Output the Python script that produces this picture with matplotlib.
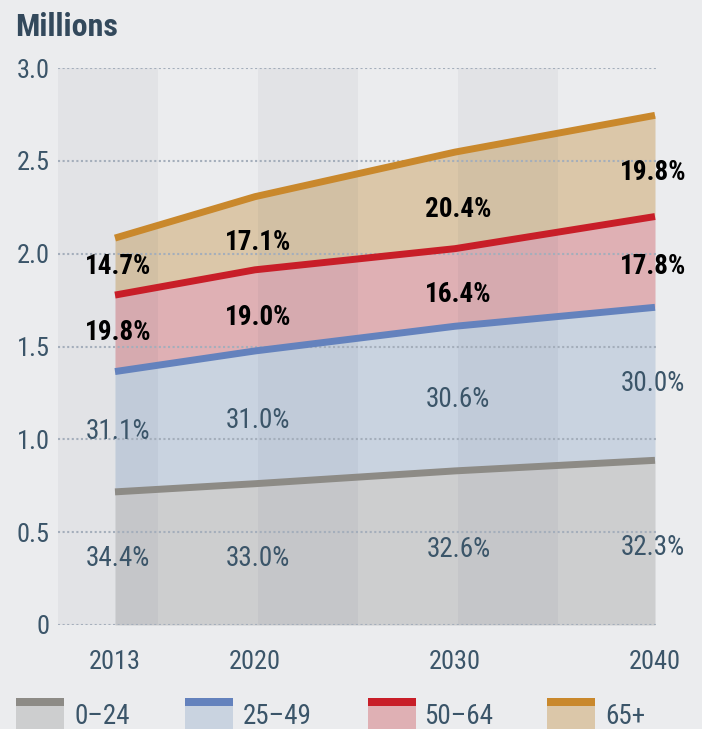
import matplotlib
matplotlib.use("Agg")
import matplotlib.pyplot as plt
from matplotlib import font_manager as fm
from matplotlib.patches import Rectangle
from matplotlib.transforms import offset_copy
import numpy as np

# ---- data ----
years = [2013, 2020, 2030, 2040]
series_names = ["0\u201324", "25\u201349", "50\u201364", "65+"]
# segment sizes (millions) for each age group per year
seg_0_24 = [0.717, 0.761, 0.830, 0.887]
seg_25_49 = [0.648, 0.715, 0.779, 0.824]
seg_50_64 = [0.412, 0.437, 0.418, 0.489]
seg_65p = [0.307, 0.394, 0.520, 0.545]
pct_0_24 = ["34.4%", "33.0%", "32.6%", "32.3%"]
pct_25_49 = ["31.1%", "31.0%", "30.6%", "30.0%"]
pct_50_64 = ["19.8%", "19.0%", "16.4%", "17.8%"]
pct_65p = ["14.7%", "17.1%", "20.4%", "19.8%"]
yticks = [0, 0.5, 1.0, 1.5, 2.0, 2.5, 3.0]
yticklabels = ["0", "0.5", "1.0", "1.5", "2.0", "2.5", "3.0"]
xticklabels = ["2013", "2020", "2030", "2040"]

# ---- font selection (prefer a condensed face) ----
entries = fm.fontManager.ttflist
names = {f.name for f in entries}
narrow = [n for n in ["Roboto Condensed", "Liberation Sans Narrow", "Arial Narrow",
                      "Open Sans Condensed", "Noto Sans Condensed", "DejaVu Sans Condensed"]
          if n in names]
narrow += sorted(n for n in names if ("Condensed" in n or "Narrow" in n) and n not in narrow
                 and "Mono" not in n and "Serif" not in n)
stretch = "normal"
if narrow:
    FONT = narrow[0]
    scale = 1.0
else:
    cond = [f.name for f in entries
            if f.name in ("Roboto", "Noto Sans", "Open Sans")
            and str(f.stretch) in ("condensed", "semi-condensed")]
    if cond:
        FONT = cond[0]
        stretch = "condensed"
        scale = 1.0
    else:
        FONT = "Liberation Sans"
        scale = 0.88
plt.rcParams["font.family"] = [FONT, "DejaVu Sans"]
plt.rcParams["font.stretch"] = stretch

BG = "#ebecee"
TXT = "#3b5569"
line_colors = ["#8d8b86", "#6482bd", "#c81e28", "#c9882c"]
fill_colors = ["#cdcecf", "#c9d3e0", "#dfb0b4", "#dbc7a9"]
# fine label nudges in pixels (down positive), per series and year
label_dy = [[0, 4, 2, 5],
            [0, 3, 1, 0],
            [-1, 7, 7, 5],
            [0, 9, 9, 7]]

fig = plt.figure(figsize=(7.02, 7.29), dpi=100, facecolor=BG)
ax = fig.add_axes([58 / 702, 1 - 625 / 729, 600 / 702, 557 / 729])
ax.set_facecolor(BG)

x0 = 2010.15
ax.set_xlim(x0, x0 + 30)
ax.set_ylim(0, 3.0)

segs = [seg_0_24, seg_25_49, seg_50_64, seg_65p]
pcts = [pct_0_24, pct_25_49, pct_50_64, pct_65p]
cum = np.cumsum(np.array(segs), axis=0)
bottoms = np.vstack([np.zeros(len(years)), cum[:-1]])

for i in range(4):
    ax.fill_between(years, bottoms[i], cum[i], color=fill_colors[i], lw=0, zorder=1)

# alternating vertical bands
for k in range(3):
    ax.axvspan(x0 + 10 * k, x0 + 10 * k + 5, color="#1c2a4a", alpha=0.045, lw=0, zorder=2)

# dotted grid
for yv in yticks:
    ax.axhline(yv, color="#a4aebb", lw=1.5, ls=(0, (1, 1.2)), zorder=3)

for i in range(4):
    ax.plot(years, cum[i], color=line_colors[i], lw=5, solid_capstyle="butt", zorder=4)

# percent labels
for i in range(4):
    mids = (bottoms[i] + cum[i]) / 2
    for j, yr in enumerate(years):
        bold = i >= 2
        tr = offset_copy(ax.transData, fig=fig, x=0, y=-label_dy[i][j], units="dots")
        ax.text(yr + (0.17 if j < 3 else -0.1), mids[j], pcts[i][j], transform=tr,
                ha="center", va="center", fontsize=19.5 * scale,
                fontweight="bold" if bold else "normal",
                color="black" if bold else TXT, zorder=5)

ax.set_yticks(yticks)
ax.set_yticklabels(yticklabels)
ax.set_xticks(years)
ax.set_xticklabels(xticklabels)
ax.tick_params(axis="both", length=0, labelsize=19 * scale, labelcolor=TXT)
ax.tick_params(axis="y", pad=6)
ax.tick_params(axis="x", pad=18)
for s in ax.spines.values():
    s.set_visible(False)

fig.text(15 / 702, 1 - 36 / 729, "Millions", fontsize=23 * scale, fontweight="bold",
         color="#33495c", ha="left", va="baseline")

# legend
leg_x = [16, 185, 368, 547]
txt_x = [75, 243, 424, 605]
for i in range(4):
    fig.add_artist(Rectangle((leg_x[i] / 702, -0.01), 48 / 702, 0.01 + 1 - 705 / 729,
                             transform=fig.transFigure, color=fill_colors[i], lw=0))
    fig.add_artist(Rectangle((leg_x[i] / 702, 1 - 706 / 729), 48 / 702, 8 / 729,
                             transform=fig.transFigure, color=line_colors[i], lw=0))
    fig.text(txt_x[i] / 702, 1 - 724 / 729, series_names[i], fontsize=19.5 * scale,
             color=TXT, ha="left", va="baseline")

fig.savefig("out.png", dpi=100, facecolor=BG)
